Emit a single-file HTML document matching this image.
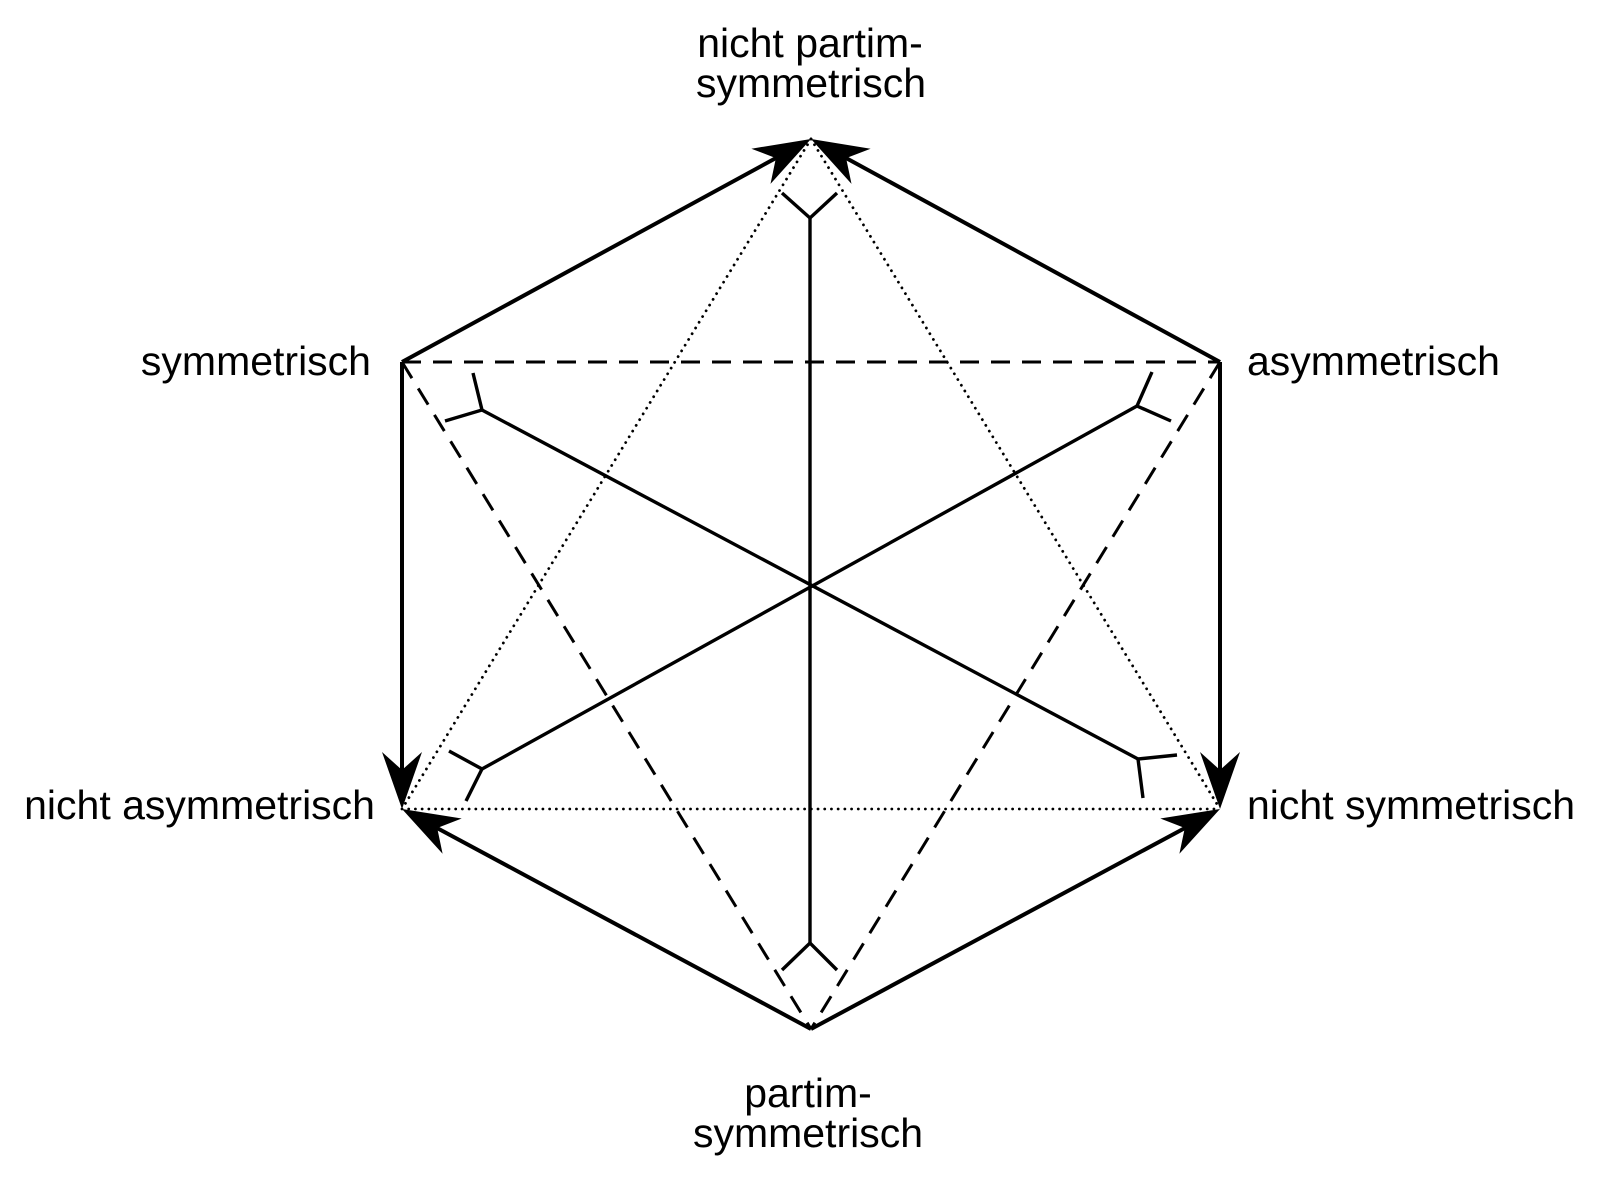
<!DOCTYPE html>
<html>
<head>
<meta charset="utf-8">
<style>
  html, body { margin:0; padding:0; background:#fff; }
  svg { display:block; }
  text { font-family: "Liberation Sans", Arial, sans-serif; font-size:41px; fill:#000; }
</style>
</head>
<body>
<svg width="1600" height="1187" viewBox="0 0 1600 1187" xmlns="http://www.w3.org/2000/svg">
  <rect width="1600" height="1187" fill="#fff"/>

  <!-- dashed triangle -->
  <g stroke="#000" stroke-width="3" fill="none" stroke-dasharray="19 12">
    <line x1="402" y1="362" x2="1220" y2="362"/>
    <line x1="402" y1="362" x2="811" y2="1029"/>
    <line x1="1220" y1="362" x2="811" y2="1029"/>
  </g>

  <!-- dotted triangle -->
  <g stroke="#000" stroke-width="2.8" fill="none" stroke-dasharray="0.01 6.7" stroke-linecap="round">
    <line x1="811" y1="139" x2="402" y2="809"/>
    <line x1="811" y1="139" x2="1220" y2="809"/>
    <line x1="402" y1="809" x2="1220" y2="809"/>
  </g>

  <!-- spokes -->
  <g stroke="#000" stroke-width="3.4" fill="none" stroke-linecap="butt">
    <line x1="810" y1="218" x2="810" y2="943"/>
    <line x1="482" y1="410" x2="1138" y2="759"/>
    <line x1="1137" y1="406" x2="482" y2="769"/>
    <!-- forks -->
    <polyline points="782,193 810,218 837,193"/>
    <polyline points="782,970 810,943 837,970"/>
    <polyline points="473,373 482,410 445,421"/>
    <polyline points="449,751 482,769 466,801"/>
    <polyline points="1152,372 1137,406 1171,421"/>
    <polyline points="1177,755 1138,759 1143,798"/>
  </g>

  <!-- hexagon edges -->
  <g stroke="#000" stroke-width="4" fill="none">
    <line x1="402" y1="362" x2="776" y2="158"/>
    <line x1="1220" y1="362" x2="846" y2="158"/>
    <line x1="402" y1="362" x2="402" y2="770"/>
    <line x1="1220" y1="362" x2="1220" y2="770"/>
    <line x1="811" y1="1029" x2="437" y2="828"/>
    <line x1="811" y1="1029" x2="1185" y2="828"/>
  </g>

  <!-- arrowheads -->
  <g fill="#000" stroke="none">
    <polygon points="811,139 770.5,183.9 775.9,158.1 751.4,148.7"/>
    <polygon points="811,139 851.5,183.9 846.1,158.1 870.6,148.7"/>
    <polygon points="402,809 382,752 402,770 422,752"/>
    <polygon points="1220,809 1200,752 1220,770 1240,752"/>
    <polygon points="402,809 461.7,818.5 437.2,828 442.6,853.7"/>
    <polygon points="1220,809 1160.3,818.5 1184.8,828 1179.4,853.7"/>
  </g>

  <!-- labels -->
  <text x="810" y="57" text-anchor="middle">nicht partim-</text>
  <text x="811" y="97" text-anchor="middle">symmetrisch</text>

  <text x="371" y="375" text-anchor="end">symmetrisch</text>
  <text x="1247" y="375">asymmetrisch</text>

  <text x="375" y="819" text-anchor="end">nicht asymmetrisch</text>
  <text x="1247" y="819">nicht symmetrisch</text>

  <text x="808" y="1107" text-anchor="middle">partim-</text>
  <text x="808" y="1147" text-anchor="middle">symmetrisch</text>
</svg>
</body>
</html>
